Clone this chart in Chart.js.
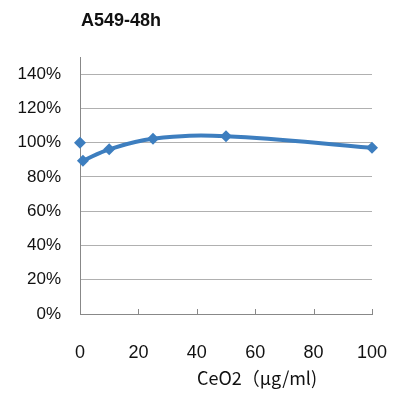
<!DOCTYPE html>
<html>
<head>
<meta charset="utf-8">
<script src="https://cdn.jsdelivr.net/npm/chart.js@4"></script>
<style>
  html, body { margin: 0; padding: 0; background: #fff; }
  canvas { display: block; }
</style>
</head>
<body>
<canvas id="viabilityChart" width="403" height="395"></canvas>
<script>
// data
const chartTitle = 'A549-48h';
const xAxisTitle = 'CeO2（μg/ml)';
const doses = [1, 10, 25, 50, 100];
const viability = [89.4, 96.1, 102.3, 103.8, 97];
const controlDoses = [0];
const controlViability = [100];
const xTickValues = [0, 20, 40, 60, 80, 100];
const yTickValues = [0, 20, 40, 60, 80, 100, 120, 140];

const blue = '#3D7EBF';
const font = '"Liberation Sans", Arial, sans-serif';

// title + x title + small upward ticks on the x axis
const extras = {
  id: 'extras',
  afterDraw(chart) {
    const ctx = chart.ctx;
    const area = chart.chartArea;
    const x = chart.scales.x;
    ctx.save();
    ctx.fillStyle = '#111';
    ctx.textBaseline = 'middle';
    ctx.textAlign = 'left';
    ctx.font = 'bold 18px ' + font;
    ctx.fillText(chartTitle, 81, 21);
    ctx.textAlign = 'center';
    ctx.font = '18px "Noto Sans CJK JP", ' + font;
    ctx.fillText(xAxisTitle, 257, 378);
    ctx.strokeStyle = '#888';
    ctx.lineWidth = 1;
    xTickValues.forEach(v => {
      const px = Math.round(x.getPixelForValue(v)) + 0.5;
      ctx.beginPath();
      ctx.moveTo(px, area.bottom);
      ctx.lineTo(px, area.bottom - 5);
      ctx.stroke();
    });
    ctx.restore();
  }
};

var viabilityChart = document.getElementById('viabilityChart').getContext('2d');

var viabilityChartBuilder = new Chart(viabilityChart, {
  type: 'line',
  data: {
    datasets: [{
      label: 'control',
      data: controlDoses.map((d, i) => ({ x: d, y: controlViability[i] })),
      showLine: false,
      pointStyle: 'rectRot',
      pointRadius: 6,
      backgroundColor: blue,
      borderColor: blue,
      borderWidth: 0,
      clip: false
    }, {
      label: 'A549',
      data: doses.map((d, i) => ({ x: d, y: viability[i] })),
      borderColor: blue,
      backgroundColor: blue,
      borderWidth: 4,
      tension: 0.4,
      pointStyle: 'rectRot',
      pointRadius: 6,
      pointBorderWidth: 0,
      clip: false
    }]
  },
  options: {
    responsive: false,
    animation: false,
    devicePixelRatio: 1,
    layout: {
      padding: { top: 57, right: 31, bottom: 0, left: 0 }
    },
    plugins: {
      legend: { display: false },
      tooltip: { enabled: false }
    },
    scales: {
      x: {
        type: 'linear',
        min: 0,
        max: 100,
        afterBuildTicks: scale => {
          scale.ticks = xTickValues.map(v => ({ value: v }));
        },
        afterFit: scale => {
          scale.height = 81;
          scale.paddingLeft = 0;
          scale.paddingRight = 0;
        },
        grid: { display: false, drawTicks: false },
        border: { display: true, color: '#888', width: 1 },
        ticks: {
          padding: 28,
          color: '#111',
          font: { family: font, size: 18 }
        }
      },
      y: {
        min: 0,
        max: 150,
        afterBuildTicks: scale => {
          scale.ticks = yTickValues.map(v => ({ value: v }));
        },
        afterFit: scale => {
          scale.width = 80;
          scale.paddingTop = 0;
          scale.paddingBottom = 0;
        },
        grid: { color: '#b0b0b0', lineWidth: 1, drawTicks: false },
        border: { display: true, color: '#888', width: 1 },
        ticks: {
          padding: 19,
          color: '#111',
          font: { family: font, size: 17 },
          callback: v => v + '%'
        }
      }
    }
  },
  plugins: [extras]
});
</script>
</body>
</html>
